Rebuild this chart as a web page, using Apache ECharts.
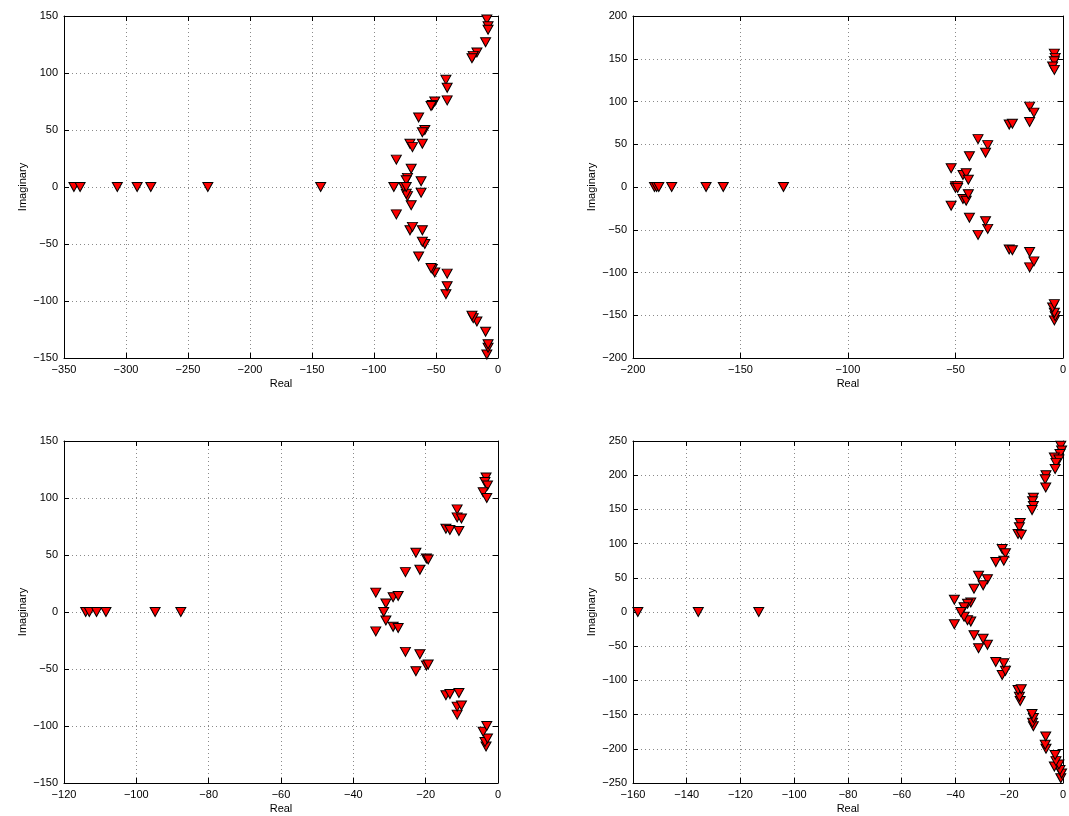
<!DOCTYPE html>
<html><head><meta charset="utf-8">
<script src="https://cdn.jsdelivr.net/npm/echarts@6/dist/echarts.min.js"></script>
<style>html,body{margin:0;padding:0;background:#fff}#c{width:1069px;height:816px}</style>
</head><body><div id="c"></div>
<script>
// Panel 1 (top-left) poles: real and imaginary parts
const p1Re = [-9,-8,-8,-10,-17,-20,-21,-42,-41,-41,-51,-53,-54,-64,-59,-61,-71,-69,-61,-82,-70,-73,-74,-62,
              -9,-8,-8,-10,-17,-20,-21,-42,-41,-41,-51,-53,-54,-64,-59,-61,-71,-69,-61,-82,-70,-73,-74,-62,
              -342,-337,-307,-291,-280,-234,-143,-84,-76,-74];
const p1Im = [147,141,138,127,118,115,113,94,87,76,75,72,71,61,50,48,38,35,38,24,16,8,6,5,
              -147,-141,-138,-127,-118,-115,-113,-94,-87,-76,-75,-72,-71,-61,-50,-48,-38,-35,-38,-24,-16,-8,-6,-5,
              0,0,0,0,0,0,0,0,0,0];
// Panel 2 (top-right)
const p2Re = [-4,-3.6,-4,-4.8,-4,-15.5,-13.5,-15.5,-25,-23.5,-39.5,-35,-36,-43.5,-52,-46.5,-45,-44,-50,-49,
              -4,-3.6,-4,-4.8,-4,-15.5,-13.5,-15.5,-25,-23.5,-39.5,-35,-36,-43.5,-52,-46.5,-45,-44,-50,-49,
              -190,-189,-188,-182,-166,-158,-130];
const p2Im = [156,151,147,141,137,94,87,76,73,74,56,49,40,36,22,14,16,8.5,1,1,
              -156,-151,-147,-141,-137,-94,-87,-76,-73,-74,-56,-49,-40,-36,-22,-14,-16,-8.5,-1,-1,
              0,0,0,0,0,0,0];
// Panel 3 (bottom-left)
const p3Re = [-3.3,-3.6,-2.9,-4.1,-3.1,-11.3,-11.3,-10.1,-14.4,-13.3,-10.8,-22.7,-19.8,-19.3,-21.6,-25.6,-33.8,-31,-29,-27.6,
              -3.3,-3.6,-2.9,-4.1,-3.1,-11.3,-11.3,-10.1,-14.4,-13.3,-10.8,-22.7,-19.8,-19.3,-21.6,-25.6,-33.8,-31,-29,-27.6,
              -31.6,-114,-113,-111,-108.4,-94.8,-87.7];
const p3Im = [118,114,111,105,100,90,83,82,73,72,71,52,47,46,37,35,17,7.5,13,14,
              -118,-114,-111,-105,-100,-90,-83,-82,-73,-72,-71,-52,-47,-46,-37,-35,-17,-7.5,-13,-14,
              0,0,0,0,0,0,0];
// Panel 4 (bottom-right)
const p4Re = [-0.8,-0.5,-1.1,-3.2,-1.5,-2.6,-2.9,-6.3,-6.6,-6.4,-11,-11.3,-11,-11.5,-15.9,-16.2,-16.7,-15.5,-22.6,-21.4,-22,-25,-31.4,-28.1,-29.7,-33.1,-40.4,-34.3,-35.5,-36.8,
              -0.8,-0.5,-1.1,-3.2,-1.5,-2.6,-2.9,-6.3,-6.6,-6.4,-11,-11.3,-11,-11.5,-15.9,-16.2,-16.7,-15.5,-22.6,-21.4,-22,-25,-31.4,-28.1,-29.7,-33.1,-40.4,-34.3,-35.5,-36.8,
              -38,-158.2,-135.7,-113.2];
const p4Im = [243,236,231,226,223,218,209,200,194,182,167,162,155,149,130,124,114,113,92,86,75,73,53,48,39,34,18,14,12,7,
              -243,-236,-231,-226,-223,-218,-209,-200,-194,-182,-167,-162,-155,-149,-130,-124,-114,-113,-92,-86,-75,-73,-53,-48,-39,-34,-18,-14,-12,-7,
              0,0,0,0];
// axis ranges [min, max, interval]
const xRanges = [[-350,0,50],[-200,0,50],[-120,0,20],[-160,0,20]];
const yRanges = [[-150,150,50],[-200,200,50],[-150,150,50],[-250,250,50]];
const xTitle = 'Real', yTitle = 'Imaginary';

const panels = [[p1Re,p1Im],[p2Re,p2Im],[p3Re,p3Im],[p4Re,p4Im]];
const grids = [
  {left:64, top:16, width:434, height:342},
  {left:633, top:16, width:434, height:342},
  {left:64, top:441, width:434, height:342},
  {left:633, top:441, width:434, height:342}
];
const fmt = v => String(v).replace('-', '\u2212');
const font = {fontFamily:'Liberation Sans, Arial, sans-serif', fontSize:11, color:'#000'};
const axLine = {show:true, onZero:false, lineStyle:{color:'#000', width:1}};
const tick = {show:true, inside:true, length:5, lineStyle:{color:'#000'}};
const split = {show:true, lineStyle:{color:'#8a8a8a', width:1, type:[1,3]}};
const xAxis = [], yAxis = [], series = [];
grids.forEach((g, i) => {
  const [xmin,xmax,xi] = xRanges[i], [ymin,ymax,yi] = yRanges[i];
  xAxis.push({type:'value', gridIndex:i, position:'bottom', min:xmin, max:xmax, interval:xi,
    axisLine:axLine, axisTick:tick, splitLine:split,
    axisLabel:Object.assign({margin:6, formatter:fmt, showMinLabel:true, showMaxLabel:true}, font),
    name:xTitle, nameLocation:'middle', nameGap:20, nameTextStyle:font});
  xAxis.push({type:'value', gridIndex:i, position:'top', min:xmin, max:xmax, interval:xi,
    axisLine:axLine, axisTick:tick, splitLine:{show:false}, axisLabel:{show:false}});
  yAxis.push({type:'value', gridIndex:i, position:'left', min:ymin, max:ymax, interval:yi,
    axisLine:axLine, axisTick:tick, splitLine:split,
    axisLabel:Object.assign({margin:6, formatter:fmt, showMinLabel:true, showMaxLabel:true}, font),
    name:yTitle, nameLocation:'middle', nameGap:36, nameTextStyle:font});
  yAxis.push({type:'value', gridIndex:i, position:'right', min:ymin, max:ymax, interval:yi,
    axisLine:axLine, axisTick:tick, splitLine:{show:false}, axisLabel:{show:false}});
  const [re, im] = panels[i];
  series.push({type:'scatter', xAxisIndex:2*i, yAxisIndex:2*i,
    data: re.map((r, k) => [r, im[k]]),
    symbol:'triangle', symbolRotate:180, symbolSize:[10,9],
    itemStyle:{color:'#ff0000', borderColor:'#000', borderWidth:1, opacity:1},
    emphasis:{disabled:true}, silent:true, animation:false});
});
const chart = echarts.init(document.getElementById('c'), null, {renderer:'canvas'});
chart.setOption({animation:false, backgroundColor:'#fff', grid:grids, xAxis, yAxis, series});
</script></body></html>
